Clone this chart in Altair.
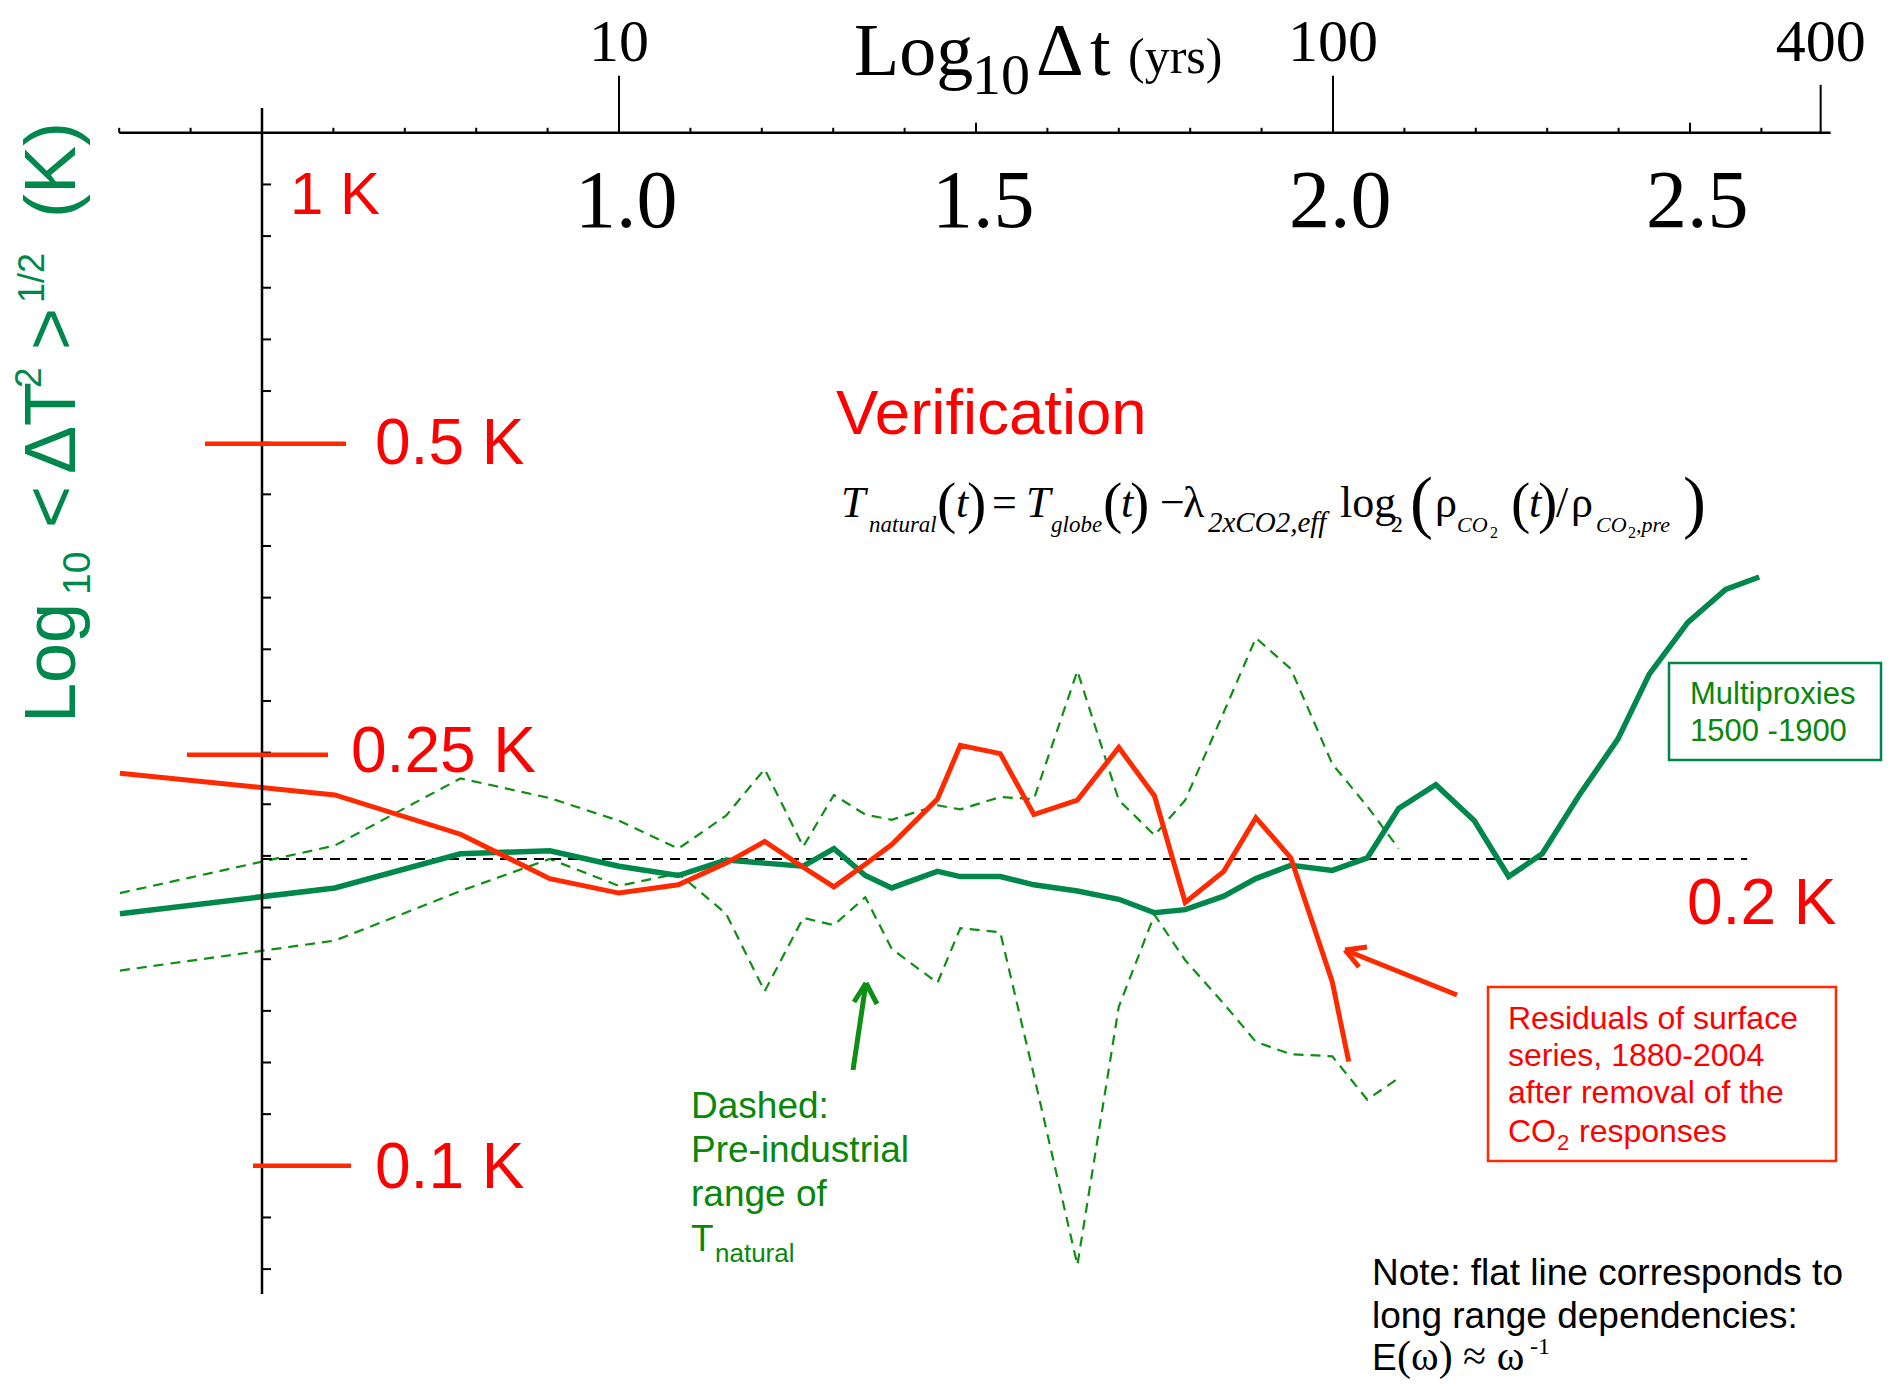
import altair as alt
import pandas as pd

# ---------------- data ----------------
# x : log10 of the time lag Δt (years) ; y : log10 of the RMS fluctuation (K)
LAG_LOG = [0.301, 0.602, 0.778, 0.903, 1.000, 1.083, 1.150, 1.204, 1.258, 1.301,
           1.345, 1.382, 1.446, 1.478, 1.534, 1.581, 1.642, 1.700, 1.750, 1.793,
           1.847, 1.892, 1.941, 1.999, 2.048, 2.092, 2.144, 2.198, 2.246, 2.293,
           2.345, 2.399, 2.443, 2.497, 2.550, 2.597]

MULTIPROXY = [-0.756, -0.731, -0.698, -0.695, -0.710, -0.719, -0.704, -0.707, -0.710, -0.693,
              -0.719, -0.731, -0.715, -0.720, -0.720, -0.728, -0.734, -0.742, -0.755, -0.752,
              -0.739, -0.722, -0.709, -0.714, -0.702, -0.654, -0.631, -0.666, -0.720, -0.698,
              -0.641, -0.587, -0.524, -0.474, -0.442, -0.430]

PRE_UPPER = [-0.736, -0.690, -0.625, -0.644, -0.666, -0.693, -0.661, -0.616, -0.691, -0.641,
             -0.660, -0.665, -0.651, -0.655, -0.643, -0.645, -0.521, -0.646, -0.680, -0.646,
             -0.561, -0.489, -0.519, -0.611, -0.652, -0.693]

PRE_LOWER = [-0.811, -0.782, -0.734, -0.703, -0.729, -0.717, -0.756, -0.831, -0.760, -0.767,
             -0.740, -0.790, -0.823, -0.770, -0.774, -0.912, -1.096, -0.846, -0.757, -0.801,
             -0.843, -0.880, -0.892, -0.894, -0.936, -0.915]

RESIDUAL_LAG = LAG_LOG[:24] + [2.022]
RESIDUAL = [-0.620, -0.641, -0.679, -0.722, -0.736, -0.728, -0.707, -0.686, -0.711, -0.730,
            -0.708, -0.689, -0.645, -0.593, -0.601, -0.660, -0.646, -0.595, -0.642, -0.745,
            -0.715, -0.663, -0.702, -0.822, -0.899]

FLAT_LEVEL = -0.703
FLAT_SPAN = [0.5, 2.58]

TOP_MINOR = [0.3, 0.4, 0.6, 0.7, 0.8, 0.9, 1.1, 1.2, 1.3, 1.4, 1.6, 1.7, 1.8, 1.9,
             2.1, 2.2, 2.3, 2.4, 2.6]
TOP_MID = [1.5, 2.5]
TOP_MAJOR = [1.0, 2.0, 2.683]
TOP_MAJOR_LABELS = ["10", "100", "400"]
LOWER_LABEL_POS = [1.0, 1.5, 2.0, 2.5]
LOWER_LABELS = ["1.0", "1.5", "2.0", "2.5"]
Y_TICKS = [-0.05, -0.10, -0.15, -0.20, -0.25, -0.30, -0.35, -0.40, -0.45, -0.50, -0.55,
           -0.60, -0.65, -0.70, -0.75, -0.80, -0.85, -0.90, -0.95, -1.00, -1.05, -1.10]
REF_K_LOG = [-0.30103, -0.60206, -1.0]
REF_K_LABELS = ["0.5 K", "0.25 K", "0.1 K"]

# ---------------- layout ----------------
W, H = 1876, 1372
MARGIN = 8
X_AT_ONE, X_PER_UNIT = 619.0, 714.0     # page px of log10 dt = 1
Y_AT_ZERO, Y_PER_UNIT = 132.8, 1033.0   # page px of log10 K = 0


def xd(px):
    return 1.0 + (px - X_AT_ONE) / X_PER_UNIT


def yd(py):
    return (Y_AT_ZERO - py) / Y_PER_UNIT


XS = alt.Scale(domain=[xd(MARGIN), xd(MARGIN + W)], nice=False, zero=False)
YS = alt.Scale(domain=[yd(MARGIN + H), yd(MARGIN)], nice=False, zero=False)

RED_LINE = "#ff2a00"
RED_TEXT = "#ff0000"
GREEN = "#00884c"
GREEN_D = "#0c8f12"
GREEN_T = "#0a870a"
BLACK = "#000000"


def X(f="x"):
    return alt.X(f"{f}:Q", scale=XS, axis=None)


def Y(f="y"):
    return alt.Y(f"{f}:Q", scale=YS, axis=None)


def series(xv, yv, name):
    return pd.DataFrame({"x": xv, "y": yv, "s": name, "o": list(range(len(xv)))})


def line(df, color, width, dash=None):
    kw = dict(color=color, strokeWidth=width)
    if dash:
        kw["strokeDash"] = dash
    return alt.Chart(df).mark_line(**kw).encode(x=X(), y=Y(), detail="s:N", order="o:Q")


dashed_df = pd.concat([series(LAG_LOG[:len(PRE_UPPER)], PRE_UPPER, "up"),
                       series(LAG_LOG[:len(PRE_LOWER)], PRE_LOWER, "low")])
flat_df = series(FLAT_SPAN, [FLAT_LEVEL, FLAT_LEVEL], "flat")
multi_df = series(LAG_LOG, MULTIPROXY, "multi")
resid_df = series(RESIDUAL_LAG, RESIDUAL, "resid")

layers = [
    line(dashed_df, GREEN_D, 2.2, [10, 7]),
    line(flat_df, BLACK, 2.2, [10, 7]),
    line(multi_df, GREEN, 5.5),
    line(resid_df, RED_LINE, 5),
]

# ---------------- rules: axes, ticks, reference marks, arrows ----------------
segs = []


def seg(x1, y1, x2, y2, c, w):
    segs.append(dict(x=x1, y=y1, x2=x2, y2=y2, c=c, w=w))


seg(0.3, 0.0, 2.697, 0.0, BLACK, 2.5)
for t in TOP_MINOR:
    seg(t, 0.0, t, 5 / Y_PER_UNIT, BLACK, 2)
for t in TOP_MID:
    seg(t, 0.0, t, 10 / Y_PER_UNIT, BLACK, 2)
for t, ln in zip(TOP_MAJOR, [57, 57, 48]):
    seg(t, 0.0, t, ln / Y_PER_UNIT, BLACK, 2)
seg(0.5, yd(108), 0.5, yd(1294), BLACK, 2.5)
for v in Y_TICKS:
    seg(0.5, v, 0.5 + 9 / X_PER_UNIT, v, BLACK, 2)
for v, (a, b) in zip(REF_K_LOG, [(205, 346), (187, 328), (253, 351)]):
    seg(xd(a), v, xd(b), v, RED_LINE, 4.5)
# red arrow
seg(xd(1457), yd(995), xd(1345), yd(950), RED_LINE, 5)
seg(xd(1345), yd(950), xd(1367), yd(947), RED_LINE, 5)
seg(xd(1345), yd(950), xd(1359), yd(967), RED_LINE, 5)
# green arrow
seg(xd(853), yd(1070), xd(866), yd(983), GREEN_D, 5)
seg(xd(866), yd(983), xd(854), yd(1002), GREEN_D, 5)
seg(xd(866), yd(983), xd(877), yd(1004), GREEN_D, 5)

layers.append(
    alt.Chart(pd.DataFrame(segs)).mark_rule(strokeCap="butt").encode(
        x=X(), y=Y(), x2="x2:Q", y2="y2:Q",
        color=alt.Color("c:N", scale=None),
        strokeWidth=alt.StrokeWidth("w:Q", scale=None)))

# boxes
boxes = pd.DataFrame([
    dict(x=xd(1669), y=yd(663), x2=xd(1881), y2=yd(760), c=GREEN),
    dict(x=xd(1488), y=yd(987), x2=xd(1836), y2=yd(1161), c=RED_LINE),
])
layers.append(alt.Chart(boxes).mark_rect(filled=False, strokeWidth=2.5).encode(
    x=X(), y=Y(), x2="x2:Q", y2="y2:Q", color=alt.Color("c:N", scale=None)))


# ---------------- text ----------------
def texts(rows, font, style="normal", angle=0, align="left"):
    df = pd.DataFrame([dict(t=t, x=x, y=y, s=s, c=c) for (t, x, y, s, c) in rows])
    kw = dict(font=font, align=align, baseline="alphabetic", fontStyle=style)
    if angle:
        kw["angle"] = angle
    return alt.Chart(df).mark_text(**kw).encode(
        x=X(), y=Y(), text="t:N",
        size=alt.Size("s:Q", scale=None),
        color=alt.Color("c:N", scale=None))


def P(t, px, py, s, c=BLACK):
    return (t, xd(px), yd(py), s, c)


SANS = "Liberation Sans"
SERIF = "Liberation Serif"

sans_rows = [
    P("1 K", 290, 214, 60, RED_TEXT),
    P("0.2 K", 1687, 924, 64, RED_TEXT),
    P("Verification", 836, 434, 63.5, RED_TEXT),
    P("Multiproxies", 1690, 704, 31, GREEN_T),
    P("1500 -1900", 1690, 741, 31, GREEN_T),
    P("Residuals of surface", 1508, 1029, 32, RED_TEXT),
    P("series, 1880-2004", 1508, 1066, 32, RED_TEXT),
    P("after removal of the", 1508, 1103, 32, RED_TEXT),
    P("CO", 1508, 1142, 32, RED_TEXT),
    P("2", 1557, 1150, 22, RED_TEXT),
    P("responses", 1579, 1142, 32, RED_TEXT),
    P("Dashed:", 691, 1118, 37, GREEN_T),
    P("Pre-industrial", 691, 1162, 37, GREEN_T),
    P("range of", 691, 1206, 37, GREEN_T),
    P("T", 691, 1251, 37, GREEN_T),
    P("natural", 715, 1262, 26, GREEN_T),
    P("Note: flat line corresponds to", 1372, 1285, 37),
    P("long range dependencies:", 1372, 1328, 37),
    P("E", 1372, 1370, 37),
]
for v, lab, px, py in zip(REF_K_LOG, REF_K_LABELS, [375, 351, 375], [464, 772, 1188]):
    sans_rows.append((lab, xd(px), yd(py), 64, RED_TEXT))
layers.append(texts(sans_rows, SANS))

serif_center = []
for t, lab in zip(TOP_MAJOR, TOP_MAJOR_LABELS):
    serif_center.append((lab, t, yd(61), 60, BLACK))
for t, lab in zip(LOWER_LABEL_POS, LOWER_LABELS):
    serif_center.append((lab, t + 0.01, yd(227), 82, BLACK))
layers.append(texts(serif_center, SERIF, align="center"))

serif_rows = [
    P("Log", 854, 75, 74), P("10", 972, 94, 58), P("Δ", 1036, 75, 74),
    P("t", 1090, 75, 74), P("(yrs)", 1128, 73, 50),
    # formula, upright parts
    P("(", 937, 522, 58), P(")", 967, 522, 58), P("=", 992, 517, 44),
    P("(", 1103, 522, 58), P(")", 1130, 522, 58), P("−", 1160, 517, 44),
    P("λ", 1183, 517, 44), P("log", 1340, 517, 44), P("2", 1391, 532, 24),
    P("(", 1410, 525, 69), P("ρ", 1435, 517, 44), P("2", 1490, 538, 16),
    P("(", 1511, 522, 58), P(")", 1538, 522, 58), P("/", 1556, 517, 44),
    P("ρ", 1571, 517, 44), P("2", 1628, 538, 16), P(")", 1683, 525, 69),
    # note formula
    P("(ω) ≈ ω", 1397, 1370, 42), P("-1", 1530, 1354, 24),
]
layers.append(texts(serif_rows, SERIF))

serif_italic = [
    P("T", 841, 517, 44), P("natural", 869, 532, 23), P("t", 956, 517, 44),
    P("T", 1026, 517, 44), P("globe", 1051, 532, 23), P("t", 1121, 517, 44),
    P("2xCO2,eff", 1208, 532, 29), P("CO", 1457, 532, 22), P("t", 1529, 517, 44),
    P("CO", 1596, 532, 22), P(",pre", 1636, 532, 22),
]
layers.append(texts(serif_italic, SERIF, style="italic"))

ytitle = [
    P("Log", 75, 723, 72, GREEN), P("10", 90, 595, 39, GREEN),
    P("<", 75, 528, 72, GREEN), P("ΔT", 75, 474, 72, GREEN),
    P("2", 41, 388, 37, GREEN), P(">", 75, 350, 72, GREEN),
    P("1/2", 44, 303, 36, GREEN), P("(K)", 75, 218, 72, GREEN),
]
layers.append(texts(ytitle, SANS, angle=270))

chart = alt.layer(*layers).properties(
    width=W, height=H, padding=0,
    autosize=alt.AutoSizeParams(type="none"),
).configure_view(strokeWidth=0)

chart.save("out.html", embed_options={"renderer": "svg", "actions": False})
